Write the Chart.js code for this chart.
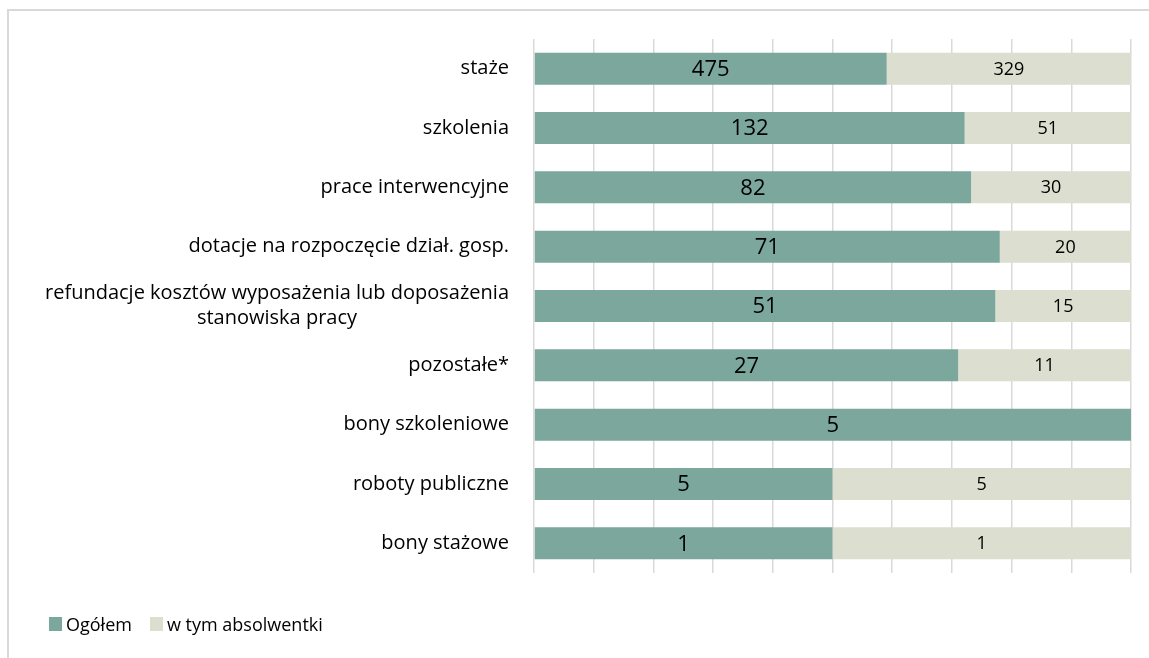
<!DOCTYPE html>
<html lang="pl">
<head>
  <meta charset="UTF-8">
  <title>Formy aktywizacji</title>
  <script src="https://cdn.jsdelivr.net/npm/chart.js"></script>
  <style>
    body {
      margin: 0;
      background: #ffffff;
      font-family: "Open Sans", sans-serif;
    }
    #frame {
      position: absolute;
      left: 7px;
      top: 9px;
      width: 1160px;
      height: 670px;
      border: 2px solid #d9d9d9;
      box-sizing: border-box;
    }
    #chartBox {
      position: absolute;
      left: 0;
      top: 0;
      width: 1149px;
      height: 658px;
    }
    #legend {
      position: absolute;
      left: 49px;
      top: 612px;
      font-size: 18px;
      color: #000;
    }
    #legend span.item {
      margin-right: 18px;
    }
    #legend span.box {
      display: inline-block;
      width: 13px;
      height: 14px;
      margin-right: 4px;
    }
  </style>
</head>
<body>
  <div id="frame"></div>
  <div id="chartBox"><canvas id="chart"></canvas></div>
  <div id="legend"></div>

  <script>
    const categories = [
      "staże",
      "szkolenia",
      "prace interwencyjne",
      "dotacje na rozpoczęcie dział. gosp.",
      ["refundacje kosztów wyposażenia lub doposażenia", "stanowiska pracy"],
      "pozostałe*",
      "bony szkoleniowe",
      "roboty publiczne",
      "bony stażowe"
    ];
    const ogolem = [475, 132, 82, 71, 51, 27, 5, 5, 1];
    const absolwentki = [329, 51, 30, 20, 15, 11, 0, 5, 1];
    const seriesNames = ["Ogółem", "w tym absolwentki"];
    const colors = ["#7ba79d", "#dcdecf"];

    // 100% stacked: share of each value in the row total
    const share = (arr, i) => arr[i] / (ogolem[i] + absolwentki[i]) * 100;
    const raw = [ogolem, absolwentki];

    const FONT = "'Open Sans', sans-serif";

    const labelPlugin = {
      id: "labels",
      afterDatasetsDraw(chart) {
        const ctx = chart.ctx;
        ctx.save();
        ctx.fillStyle = "#000";
        ctx.textAlign = "center";
        ctx.textBaseline = "middle";
        chart.data.datasets.forEach((ds, d) => {
          ctx.font = (d === 0 ? "22px " : "18px ") + FONT;
          chart.getDatasetMeta(d).data.forEach((bar, i) => {
            const v = raw[d][i];
            if (!v) return;
            ctx.fillText(String(v), (bar.x + bar.base) / 2, bar.y + 1);
          });
        });
        // category labels, right-aligned block, lines centred inside it
        const y = chart.scales.y;
        ctx.font = "20px " + FONT;
        const right = chart.chartArea.left - 25;
        categories.forEach((lab, i) => {
          const lines = Array.isArray(lab) ? lab : [lab];
          const w = Math.max(...lines.map(l => ctx.measureText(l).width));
          const cy = y.getPixelForValue(i);
          const lh = 25;
          lines.forEach((l, k) => {
            const ly = cy + (k - (lines.length - 1) / 2) * lh;
            ctx.fillText(l, right - w / 2, ly);
          });
        });
        ctx.restore();
      }
    };

    new Chart(document.getElementById("chart"), {
      type: "bar",
      data: {
        labels: categories,
        datasets: seriesNames.map((name, d) => ({
          label: name,
          data: raw[d].map((v, i) => share(raw[d], i)),
          backgroundColor: colors[d],
          borderWidth: 0,
          categoryPercentage: 1,
          barPercentage: 0.54
        }))
      },
      options: {
        indexAxis: "y",
        responsive: true,
        maintainAspectRatio: false,
        animation: false,
        layout: { padding: { top: 39, right: 18, bottom: 85, left: 0 } },
        plugins: {
          legend: { display: false },
          tooltip: { enabled: false }
        },
        scales: {
          x: {
            stacked: true,
            min: 0,
            max: 100,
            ticks: { display: false, stepSize: 10 },
            grid: { color: "#d9d9d9", lineWidth: 1.5, drawTicks: false },
            border: { display: false }
          },
          y: {
            stacked: true,
            ticks: { display: false },
            grid: { display: false },
            border: { display: false },
            afterFit(scale) { scale.width = 534; }
          }
        }
      },
      plugins: [labelPlugin]
    });

    const legend = document.getElementById("legend");
    seriesNames.forEach((name, d) => {
      const item = document.createElement("span");
      item.className = "item";
      item.innerHTML = '<span class="box" style="background:' + colors[d] + '"></span>' + name;
      legend.appendChild(item);
    });
  </script>
</body>
</html>
